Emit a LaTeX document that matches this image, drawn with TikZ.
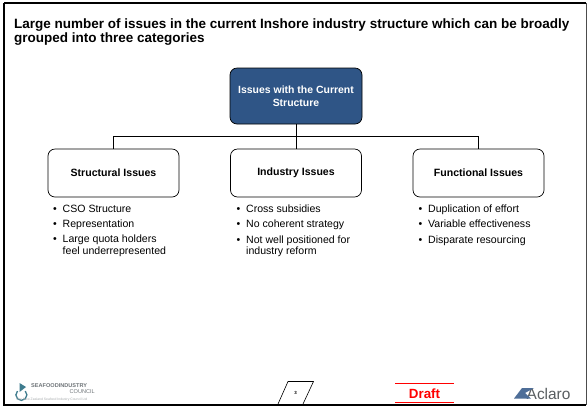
\documentclass[tikz,border=0pt]{standalone}
\usepackage{fontspec}
\setmainfont{Liberation Sans}
\definecolor{navy}{HTML}{2F5586}
\definecolor{logoteal}{HTML}{3E7C8E}
\definecolor{logogray}{HTML}{6E7478}
\definecolor{draftred}{HTML}{FF0000}
\tikzset{
  x=1bp,y=-1bp,
  topbox/.style={draw=black,line width=0.7bp,fill=navy,rounded corners=7bp,minimum width=132bp,minimum height=56bp,align=center,text=white,font=\fontsize{10.5}{13}\selectfont\bfseries,inner sep=0pt},
  catbox/.style={draw=black,line width=0.7bp,fill=white,rounded corners=7bp,minimum width=131bp,minimum height=48bp,align=center,font=\fontsize{10.6}{12}\selectfont\bfseries,inner sep=0pt},
  conn/.style={draw=black,line width=0.8bp},
  bulletlist/.style={anchor=north west,align=left,inner sep=0pt,font=\fontsize{10.6}{11.2}\selectfont},
}
\newcommand{\itm}[1]{\makebox[9.5bp][l]{\textbullet}#1}
\begin{document}
\begin{tikzpicture}
\useasboundingbox (0,0) rectangle (587,410);
\fill[white] (0,0) rectangle (587,410);
\draw[line width=2bp,black] (4,3) -- (586,3);
\draw[line width=2bp,black] (4,3) -- (4,405) -- (586,405);
\draw[line width=0.7bp,black!70] (586,3) -- (586,405);

\node[anchor=north west,inner sep=0pt,align=left,font=\fontsize{13.55}{14}\selectfont\bfseries] (title) at (14,18.5)
 {Large number of issues in the current Inshore industry structure which can be broadly\\grouped into three categories};

\node[topbox] (top) at (296,96) {Issues with the Current\\Structure};
\node[catbox] (s) at (113.5,173) {Structural Issues};
\node[catbox] (i) at (296,173) {Industry Issues};
\node[catbox] (f) at (478.5,173) {Functional Issues};

\coordinate (bus) at (296,136);
\draw[conn] (top.south) -- (i.north);
\draw[conn] (bus) -| (s.north);
\draw[conn] (bus) -| (f.north);

\node[bulletlist] (sl) at (53,204.5) {%
 \itm{CSO Structure}\\[4.3bp]\itm{Representation}\\[4.3bp]\itm{Large quota holders}\\\hspace*{9.5bp}feel underrepresented};
\node[bulletlist] (il) at (236.5,204.5) {%
 \itm{Cross subsidies}\\[4.3bp]\itm{No coherent strategy}\\[4.3bp]\itm{Not well positioned for}\\\hspace*{9.5bp}industry reform};
\node[bulletlist] (fl) at (418.5,204.5) {%
 \itm{Duplication of effort}\\[4.3bp]\itm{Variable effectiveness}\\[4.3bp]\itm{Disparate resourcing}};

% footer: Seafood Industry Council logo
\draw[logoteal,line width=1.3bp] (17.5,391) arc[start angle=225,end angle=-45,radius=5.5] ;
\fill[logoteal] (19.5,383) -- (26,387) -- (19.5,392) -- cycle;
\node[anchor=west,inner sep=0pt,text=logogray,font=\fontsize{5.6}{6}\selectfont\bfseries] (sic1) at (31,386) {SEAFOODINDUSTRY};
\node[anchor=east,inner sep=0pt,text=logogray,font=\fontsize{5.6}{6}\selectfont] (sic2) at (95,392) {COUNCIL};
\node[anchor=west,inner sep=0pt,text=logogray!60,font=\fontsize{3.4}{4}\selectfont] (sic3) at (16,400) {The New Zealand Seafood Industry Council Ltd};

% page number
\draw[black,line width=0.6bp] (278,404) -- (288,381.5) -- (313.5,381.5) -- (303,404);
\node[inner sep=0pt,font=\fontsize{4.5}{5}\selectfont\bfseries] (pg) at (295.5,393) {3};

% Draft
\draw[draftred,line width=0.8bp] (395,383.5) -- (454,383.5);
\draw[draftred,line width=0.8bp] (395,402.5) -- (454,402.5);
\node[inner sep=0pt,text=draftred,font=\fontsize{13.4}{14}\selectfont\bfseries] (draft) at (424.5,393.5) {Draft};

% Aclaro logo
\node[anchor=west,inner sep=0pt,text=logogray!80!black,font=\fontsize{15.5}{16}\selectfont] (acl) at (526.5,394) {Aclaro};
\fill[navy!85] (514,398.5) -- (522,388) -- (534,388) -- (525,393) -- (531,398.5) -- cycle;
\end{tikzpicture}
\end{document}
